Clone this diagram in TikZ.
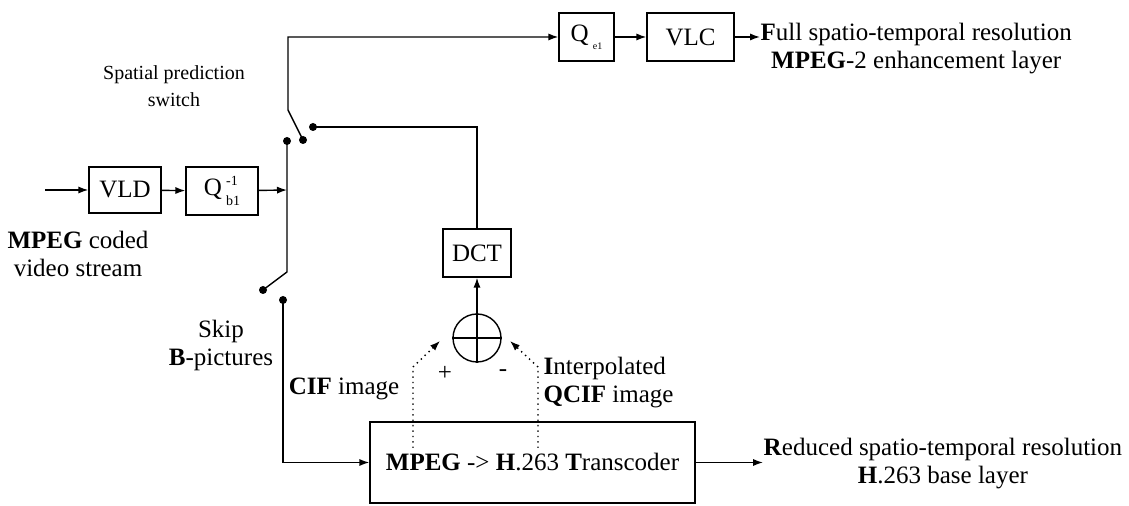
\documentclass[tikz,border=0pt]{standalone}
\usepackage{fontspec}
\setmainfont{Liberation Serif}
\usepackage{amsmath}
\usetikzlibrary{arrows.meta}
\usetikzlibrary{calc}

\begin{document}
\begin{tikzpicture}[x=0.5pt, y=-0.5pt, line width=0.7pt,
    font=\fontsize{12.5}{14}\selectfont,
    blk/.style={draw, rectangle, inner sep=0pt},
    arr/.style={-{Latex[length=5pt,width=3.6pt]}},
    dotarr/.style={dotted, -{Latex[length=5pt,width=3.6pt]}},
    pin/.style={circle, fill, inner sep=0pt, minimum size=4pt},
    lbl/.style={align=center, inner sep=0pt}]
    \useasboundingbox (0,0) rectangle (1129,506);

    % LEFT: decoding of the incoming stream
    \coordinate (in) at (45,190);
    \node[blk, minimum width=36pt, minimum height=23pt] (vld) at (125,190) {VLD};
    \node[blk, minimum width=36pt, minimum height=24pt] (qb) at (222,191)
        {Q\,\rlap{\raisebox{5pt}{\scriptsize -1}}\raisebox{-5pt}{\scriptsize b1}};
    \node[lbl] (mpegtxt) at (78,254) {\textbf{MPEG} coded\\video stream};
    \draw[arr] (in) -- (vld);
    \draw[arr] (vld) -- (qb);

    % Switches
    \node[pin] (pinA) at (287,141) {};
    \node[pin] (pinB) at (303,140) {};
    \node[pin] (pinC) at (313,127) {};
    \node[pin] (pinD) at (263,290) {};
    \node[pin] (pinE) at (283,300) {};
    \coordinate (jin) at (287,190);
    \coordinate (bendA) at (288,110);
    \coordinate (bendD) at (287,272);
    \draw[arr] (qb) -- (jin);
    \draw (pinA.center) -- (bendD) -- (pinD.center);
    \node[lbl, font=\fontsize{10}{13.5}\selectfont] (spatxt) at (174,86) {Spatial prediction\\switch};
    \node[lbl] (skiptxt) at (221,345) {Skip\\\textbf{B}-pictures};

    % TOP: enhancement layer
    \node[blk, minimum width=27.5pt, minimum height=24pt] (qe) at (586.5,37)
        {Q\,\raisebox{-4pt}{\tiny e1}};
    \node[blk, minimum width=43.5pt, minimum height=24pt] (vlc) at (690.5,37) {VLC};
    \node[lbl, anchor=west] (fulltxt) at (760,49) {\textbf{F}ull spatio-temporal resolution\\\textbf{MPEG}-2 enhancement layer};
    \draw[arr] (pinB.center) -- (bendA) |- (qe.west);
    \draw[arr] (qe) -- (vlc);
    \draw[arr] (vlc) -- (vlc -| fulltxt.west);

    % MIDDLE: prediction error
    \node[blk, minimum width=34pt, minimum height=24pt] (dct) at (477,253) {DCT};
    \node[draw, circle, minimum size=24pt, inner sep=0pt] (sum) at (477,338) {};
    \draw (sum.north) -- (sum.south) (sum.west) -- (sum.east);
    \draw (pinC.center) -| (dct.north);
    \draw[arr] (sum) -- (dct);
    \node (plustxt) at (445,373) {+};
    \node (minustxt) at (503,373) {-};
    \node[lbl] (ciftxt) at (344,389) {\textbf{CIF} image};
    \node[align=left, anchor=west, inner sep=0pt] (interptxt) at (543,383) {\textbf{I}nterpolated\\\textbf{QCIF} image};

    % BOTTOM: base layer
    \node[blk, minimum width=162.5pt, minimum height=40.5pt] (trans) at (532.5,462.5) {\textbf{MPEG} -> \textbf{H}.263 \textbf{T}ranscoder};
    \node[lbl, anchor=west] (redtxt) at (763,464) {\textbf{R}educed spatio-temporal resolution\\\textbf{H}.263 base layer};
    \draw[arr] (pinE.center) |- (trans.west);
    \draw[arr] (trans) -- (trans -| redtxt.west);

    % dotted inputs of the adder
    \coordinate (cifsrc) at (413,448);
    \coordinate (cifbend) at (413,367);
    \coordinate (cifend) at (440,341);
    \coordinate (qcifsrc) at (538,448);
    \coordinate (qcifbend) at (538,367);
    \coordinate (qcifend) at (510,341);
    \draw[dotarr] (cifsrc) -- (cifbend) -- (cifend);
    \draw[dotarr] (qcifsrc) -- (qcifbend) -- (qcifend);
\end{tikzpicture}
\end{document}
